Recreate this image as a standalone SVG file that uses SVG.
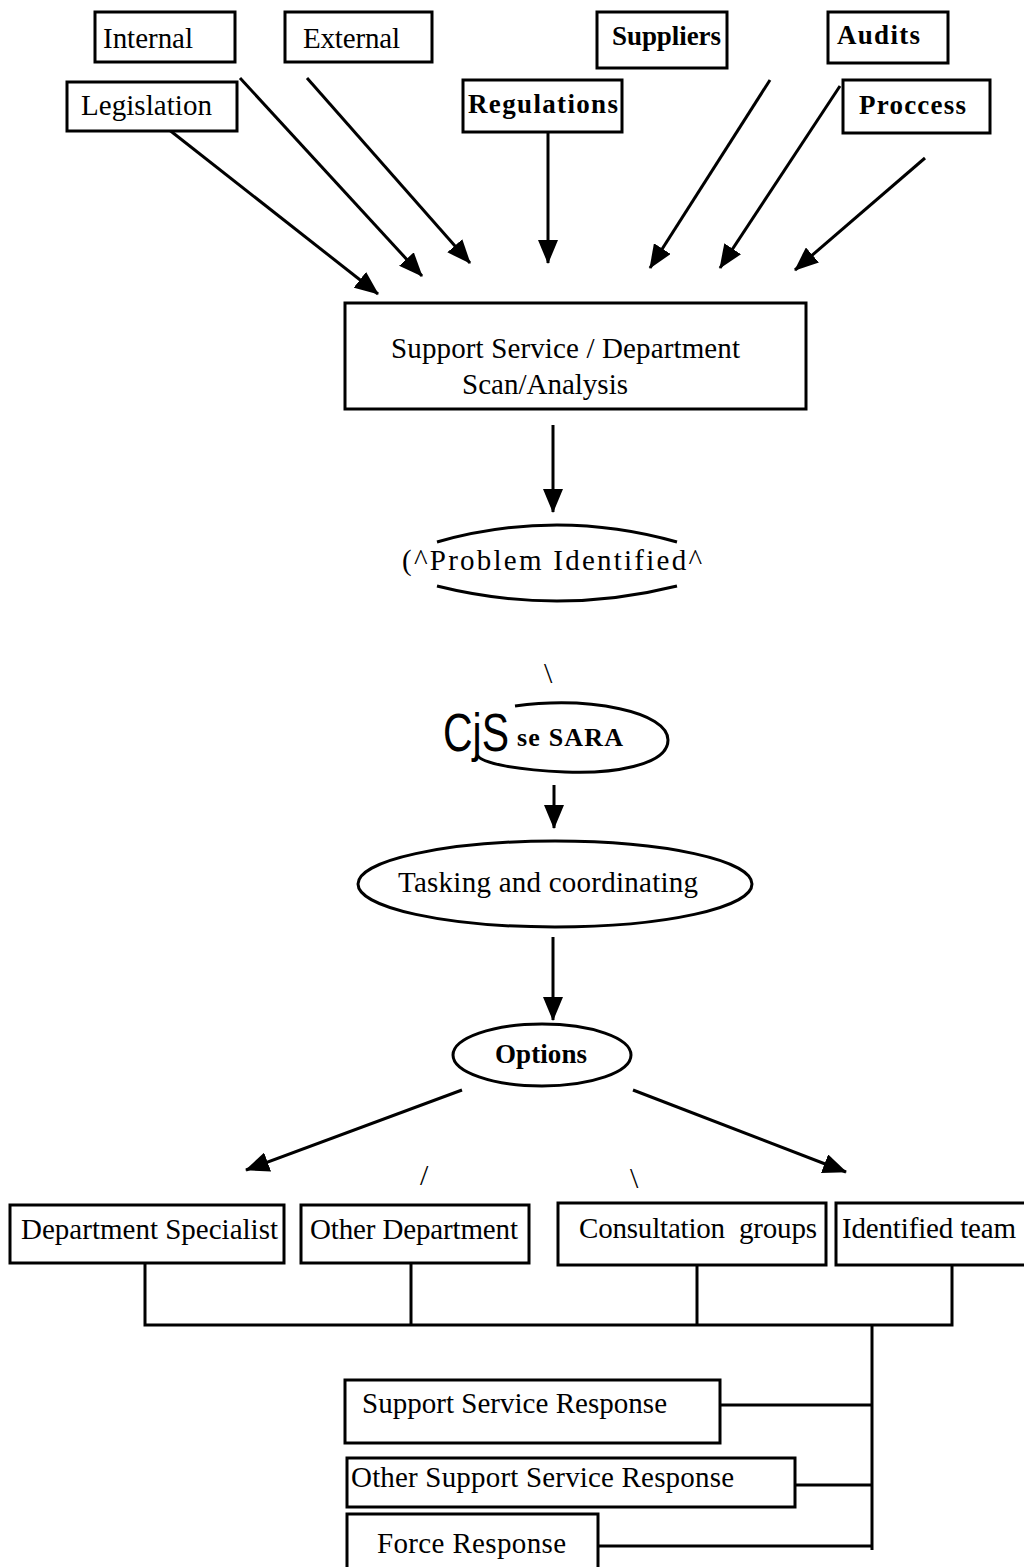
<svg xmlns="http://www.w3.org/2000/svg" width="1024" height="1567" viewBox="0 0 1024 1567">
<defs>
<marker id="ah" markerUnits="userSpaceOnUse" markerWidth="24" markerHeight="20" viewBox="0 0 24 20" refX="23" refY="10" orient="auto"><path d="M0,0 L24,10 L0,20 Z" fill="#000"/></marker>
<style>
.box{fill:#fff;stroke:#000;stroke-width:3}
.t{font-family:"Liberation Serif","Times New Roman",serif;font-size:29px;fill:#000}
.b{font-weight:bold;font-size:27px}
.c{fill:none;stroke:#000;stroke-width:3}
.a{fill:none;stroke:#000;stroke-width:3;marker-end:url(#ah)}
.s{font-family:"Liberation Serif","Times New Roman",serif;font-size:30px;fill:#000}
</style>
</defs>
<rect width="1024" height="1567" fill="#fff"/>

<g id="connectors">
<line class="a" x1="163" y1="125" x2="378" y2="294"/>
<line class="a" x1="240" y1="78" x2="422" y2="276"/>
<line class="a" x1="307" y1="78" x2="470" y2="263"/>
<line class="a" x1="548" y1="120" x2="548" y2="263"/>
<line class="a" x1="770" y1="80" x2="650" y2="268"/>
<line class="a" x1="840" y1="86" x2="720" y2="268"/>
<line class="a" x1="925" y1="158" x2="795" y2="270"/>
<line class="a" x1="553" y1="425" x2="553" y2="512"/>
<line class="a" x1="554" y1="785" x2="554" y2="828"/>
<line class="a" x1="553" y1="937" x2="553" y2="1020"/>
<line class="a" x1="462" y1="1090" x2="246" y2="1170"/>
<line class="a" x1="633" y1="1090" x2="846" y2="1172"/>
<polyline class="c" points="145,1263 145,1325 952,1325 952,1265"/>
<line class="c" x1="411" y1="1263" x2="411" y2="1325"/>
<line class="c" x1="697" y1="1265" x2="697" y2="1325"/>
<line class="c" x1="872" y1="1325" x2="872" y2="1550"/>
<line class="c" x1="720" y1="1405" x2="872" y2="1405"/>
<line class="c" x1="795" y1="1485" x2="872" y2="1485"/>
<line class="c" x1="598" y1="1546" x2="872" y2="1546"/>
<text class="s" x="544" y="683">\</text>
<text class="s" x="420" y="1185">/</text>
<text class="s" x="630" y="1188">\</text>
</g>

<g id="internal"><rect class="box" x="95" y="12" width="140" height="50"/><text class="t" x="103" y="48" textLength="90">Internal</text></g>
<g id="external"><rect class="box" x="285" y="12" width="147" height="50"/><text class="t" x="303" y="48" textLength="97">External</text></g>
<g id="legislation"><rect class="box" x="67" y="82" width="170" height="49"/><text class="t" x="81" y="115" textLength="131">Legislation</text></g>
<g id="suppliers"><rect class="box" x="597" y="12" width="130" height="56"/><text class="t b" x="612" y="45" textLength="109">Suppliers</text></g>
<g id="audits"><rect class="box" x="828" y="12" width="120" height="51"/><text class="t b" x="837" y="44" textLength="83">Audits</text></g>
<g id="regulations"><rect class="box" x="463" y="80" width="159" height="52"/><text class="t b" x="468" y="113" textLength="150">Regulations</text></g>
<g id="proccess"><rect class="box" x="843" y="80" width="147" height="53"/><text class="t b" x="859" y="114" textLength="107">Proccess</text></g>

<g id="scan"><rect class="box" x="345" y="303" width="461" height="106"/><text class="t" x="391" y="358" textLength="349">Support Service / Department</text><text class="t" x="462" y="394" textLength="166">Scan/Analysis</text></g>

<g id="problem"><path class="c" d="M437,542 Q557,508 677,542"/><path class="c" d="M437,586 Q557,616 677,586"/><text class="t" x="402" y="570" textLength="300">(^Problem Identified^</text></g>

<g id="sara"><path class="c" d="M515,706 C590,696 668,712 668,740 C668,766 610,774 565,772 C520,770 482,764 477,755"/><text transform="translate(443,751) scale(1,1.33)" font-family="'Liberation Sans',Arial,sans-serif" font-size="41">CjS</text><text class="t" x="517" y="746" style="font-size:26px;font-weight:bold" textLength="106">se SARA</text></g>

<g id="tasking"><ellipse class="box" cx="555" cy="884" rx="197" ry="43"/><text class="t" x="398" y="892" textLength="300">Tasking and coordinating</text></g>

<g id="options"><ellipse class="box" cx="542" cy="1055" rx="89" ry="31"/><text class="t b" x="495" y="1063" textLength="92">Options</text></g>

<g id="dept_specialist"><rect class="box" x="10" y="1205" width="274" height="58"/><text class="t" x="21" y="1239" textLength="257">Department Specialist</text></g>
<g id="other_department"><rect class="box" x="301" y="1205" width="228" height="58"/><text class="t" x="310" y="1239" textLength="208">Other Department</text></g>
<g id="consultation"><rect class="box" x="558" y="1203" width="268" height="62"/><text class="t" x="579" y="1238" textLength="238" xml:space="preserve">Consultation  groups</text></g>
<g id="identified_team"><rect class="box" x="836" y="1203" width="200" height="62"/><text class="t" x="842" y="1238" textLength="174">Identified team</text></g>

<g id="support_response"><rect class="box" x="345" y="1380" width="375" height="63"/><text class="t" x="362" y="1413" textLength="305">Support Service Response</text></g>
<g id="other_support_response"><rect class="box" x="347" y="1458" width="448" height="49"/><text class="t" x="351" y="1487" textLength="383">Other Support Service Response</text></g>
<g id="force_response"><rect class="box" x="347" y="1514" width="251" height="60"/><text class="t" x="377" y="1553" textLength="189">Force Response</text></g>
</svg>
